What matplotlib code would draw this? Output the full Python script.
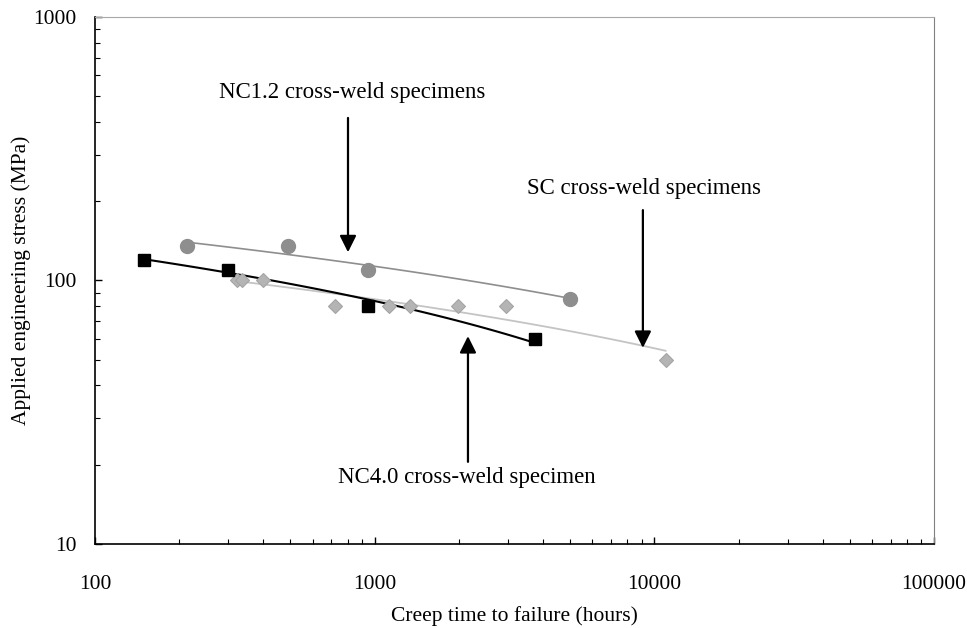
import numpy as np
import matplotlib
matplotlib.use("Agg")
from matplotlib import pyplot as plt
from matplotlib.ticker import LogLocator, NullFormatter, FixedLocator

# NC1.2 cross-weld specimens
nc12_time = [213, 491, 944, 4990]
nc12_stress = [135, 135, 110, 85]

# NC4.0 cross-weld specimen
nc40_time = [150, 300, 950, 3730]
nc40_stress = [120, 110, 80, 60]

# SC cross-weld specimens
sc_time = [321, 335, 398, 721, 1127, 1337, 1991, 2938, 10970]
sc_stress = [100, 100, 100, 80, 80, 80, 80, 80, 50]

plt.rcParams['font.family'] = ['Liberation Serif', 'DejaVu Serif']

fig = plt.figure(figsize=(9.67, 6.28), dpi=100)
ax = fig.add_axes([0.0982, 0.1338, 0.8677, 0.8391])
ax.set_xscale("log")
ax.set_yscale("log")
ax.set_xlim(100, 100000)
ax.set_ylim(10, 1000)


def log_trend(x, y):
    # excel style logarithmic trendline: y = a ln(x) + b
    x = np.asarray(x, float)
    a, b = np.polyfit(np.log(x), y, 1)
    xs = np.geomspace(x.min(), x.max(), 100)
    return xs, a * np.log(xs) + b


xs, ys = log_trend(sc_time, sc_stress)
ax.plot(xs, ys, color="#c4c4c4", lw=1.3, zorder=2)
xs, ys = log_trend(nc12_time, nc12_stress)
ax.plot(xs, ys, color="#8e8e8e", lw=1.2, zorder=2)
xs, ys = log_trend(nc40_time, nc40_stress)
ax.plot(xs, ys, color="black", lw=1.5, zorder=2)

ax.plot(sc_time, sc_stress, ls="none", marker="D", ms=7.5, mfc="#b4b4b4",
        mec="#a4a4a4", mew=0.8, zorder=3)
ax.plot(nc12_time, nc12_stress, ls="none", marker="o", ms=10, mfc="#8e8e8e",
        mec="#8e8e8e", zorder=3)
ax.plot(nc40_time, nc40_stress, ls="none", marker="s", ms=8, mfc="black",
        mec="black", zorder=3)

arrow = dict(arrowstyle="-|>,head_length=1.0,head_width=0.5", color="black",
             lw=1.6, shrinkA=0, shrinkB=0)
ax.annotate("", xy=(803, 128), xytext=(803, 414), arrowprops=arrow)
ax.annotate("", xy=(9100, 55.5), xytext=(9100, 185), arrowprops=arrow)
ax.annotate("", xy=(2156, 61.5), xytext=(2156, 20.5), arrowprops=arrow)

ax.text(830, 515, "NC1.2 cross-weld specimens", fontsize=16.5, ha="center", va="center")
ax.text(9150, 224, "SC cross-weld specimens", fontsize=16.5, ha="center", va="center")
ax.text(2130, 17.8, "NC4.0 cross-weld specimen", fontsize=16.5, ha="center", va="center")

ax.xaxis.set_major_locator(FixedLocator([100, 1000, 10000, 100000]))
ax.yaxis.set_major_locator(FixedLocator([10, 100, 1000]))
ax.xaxis.set_minor_locator(LogLocator(base=10, subs=np.arange(2, 10)))
ax.yaxis.set_minor_locator(LogLocator(base=10, subs=np.arange(2, 10)))
ax.xaxis.set_minor_formatter(NullFormatter())
ax.yaxis.set_minor_formatter(NullFormatter())
ax.set_xticklabels(["100", "1000", "10000", "100000"])
ax.set_yticklabels(["10", "100", "1000"])

ax.tick_params(which="major", direction="in", length=5, width=1, labelsize=15.5)
ax.tick_params(which="minor", direction="in", length=3.5, width=0.8)
ax.tick_params(axis="x", which="major", pad=22)
ax.tick_params(axis="y", which="major", pad=13)

ax.spines["left"].set_linewidth(1.2)
ax.spines["bottom"].set_linewidth(1.2)
ax.spines["top"].set_color("#a8a8a8")
ax.spines["right"].set_color("#808080")

ax.set_xlabel("Creep time to failure (hours)", fontsize=15.5, labelpad=9)
ax.set_ylabel("Applied engineering stress (MPa)", fontsize=15.5, labelpad=2)

fig.savefig("out.png", dpi=100)
